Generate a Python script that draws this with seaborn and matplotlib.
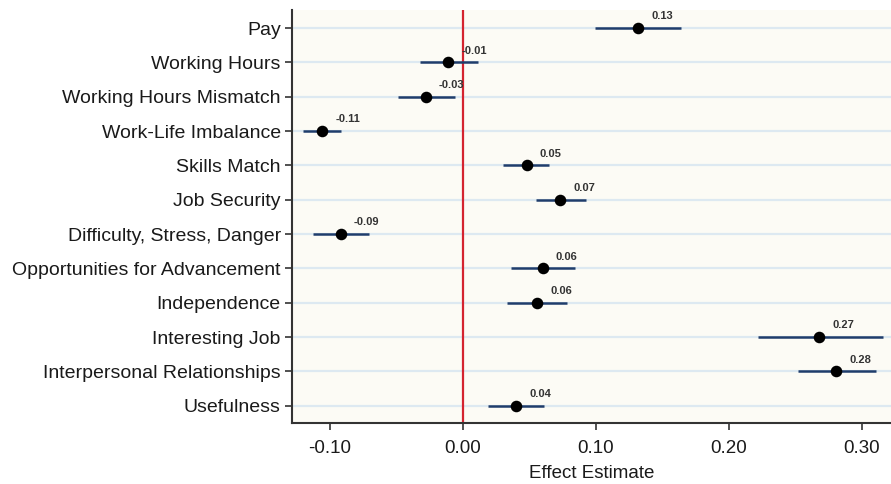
import numpy as np
import pandas as pd
import matplotlib
matplotlib.use("Agg")
import matplotlib.pyplot as plt
import seaborn as sns

# job attributes, top to bottom
attributes = ["Pay", "Working Hours", "Working Hours Mismatch", "Work-Life Imbalance",
              "Skills Match", "Job Security", "Difficulty, Stress, Danger",
              "Opportunities for Advancement", "Independence", "Interesting Job",
              "Interpersonal Relationships", "Usefulness"]
estimate = [0.132, -0.011, -0.028, -0.106, 0.048, 0.073, -0.092, 0.060, 0.056, 0.268, 0.281, 0.040]
ci_low = [0.099, -0.032, -0.049, -0.120, 0.030, 0.055, -0.113, 0.036, 0.033, 0.222, 0.252, 0.019]
ci_high = [0.164, 0.011, -0.006, -0.092, 0.065, 0.0925, -0.0705, 0.084, 0.078, 0.316, 0.311, 0.061]
xticks = [-0.10, 0.00, 0.10, 0.20, 0.30]

df = pd.DataFrame({"attribute": attributes, "estimate": estimate,
                   "lo": ci_low, "hi": ci_high})

sns.set_theme(style="white")
plt.rcParams['font.family'] = ['Liberation Sans', 'DejaVu Sans']

fig = plt.figure(figsize=(8.91, 4.84), dpi=100)
ax = fig.add_axes([0.3277, 0.126, 0.6723, 0.853])
ax.set_facecolor("#fcfbf5")

ypos = np.arange(len(df))
# light row grid lines
for y in ypos:
    ax.axhline(y, color="#dde9f1", lw=1.6, zorder=0)

ax.axvline(0, color="#d42430", lw=1.6, zorder=1)
ax.hlines(ypos, df["lo"], df["hi"], color="#1f3d6b", lw=1.8, zorder=2)

sns.pointplot(data=df, x="estimate", y="attribute", order=attributes,
              linestyle="none", color="black", markers="o", markersize=6.3,
              errorbar=None, ax=ax, zorder=3)

for y, v in zip(ypos, df["estimate"]):
    ax.annotate(f"{v:.2f}", (v, y), xytext=(9.5, 8.5), textcoords="offset points",
                ha="left", va="center", fontsize=8, color="#333333", fontweight="bold")

ax.set_xlim(-0.1286, 0.322)
ax.set_ylim(11.5, -0.52)
ax.set_xticks(xticks)
ax.set_xticklabels([f"{t:.2f}" for t in xticks], fontsize=13.5)
ax.tick_params(axis="y", labelsize=14)
ax.tick_params(axis="both", direction="out", length=5, width=1.2, color="#333333",
               left=True, bottom=True, labelcolor="#1a1a1a", pad=3)
ax.tick_params(axis="x", pad=7)
ax.set_xlabel("Effect Estimate", fontsize=13.5, color="#1a1a1a", labelpad=6)
ax.set_ylabel("")

for side in ["top", "right"]:
    ax.spines[side].set_visible(False)
for side in ["left", "bottom"]:
    ax.spines[side].set_color("#333333")
    ax.spines[side].set_linewidth(1.5)

fig.savefig("out.png", dpi=100)
